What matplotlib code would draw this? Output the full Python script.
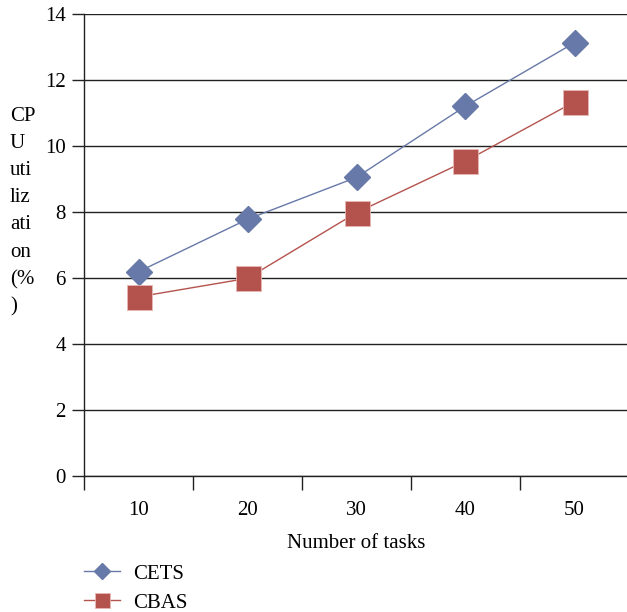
import matplotlib.pyplot as plt

# CPU utilization vs number of tasks
tasks = ["10", "20", "30", "40", "50"]
cets = [6.19, 7.78, 9.05, 11.21, 13.13]
cbas = [5.43, 5.99, 7.98, 9.54, 11.34]

plt.rcParams["font.family"] = ["Liberation Serif", "DejaVu Serif"]

blue = "#6779A8"
red = "#B4534E"
fs = 15

fig = plt.figure(figsize=(6.27, 6.12), dpi=100)
ax = fig.add_axes([84 / 627, 1 - 476 / 612, 545 / 627, 462 / 612])

x = list(range(len(tasks)))
ax.plot(x, cets, color=blue, lw=1.0, marker="D", markersize=13,
        markeredgecolor=blue, label="CETS", zorder=3)
ax.plot(x, cbas, color=red, lw=1.0, marker="s", markersize=18,
        markeredgecolor="#E8B8B5", markeredgewidth=0.6, label="CBAS", zorder=3)

ax.set_ylim(0, 14)
ax.set_yticks(range(0, 15, 2))
ax.set_xlim(-0.5, len(tasks) - 0.5)
ax.set_xticks([i - 0.5 for i in range(len(tasks) + 1)])
ax.set_xticklabels([])
ax.set_xticks(x, minor=True)
ax.set_xticklabels(tasks, minor=True)
ax.tick_params(axis="x", which="major", length=10, width=1, color="#222222")
ax.tick_params(axis="x", which="minor", length=0, pad=18, labelsize=fs)
ax.tick_params(axis="y", length=9, width=1, color="#222222", labelsize=fs, pad=4)

ax.yaxis.grid(True, color="#222222", lw=1)
ax.set_axisbelow(True)
for s in ["top", "right"]:
    ax.spines[s].set_visible(False)
for s in ["left", "bottom"]:
    ax.spines[s].set_color("#222222")
    ax.spines[s].set_linewidth(1)

ax.set_xlabel("Number of tasks", fontsize=fs, labelpad=10)

fig.text(10 / 627, 1 - 107 / 612, "CP\nU\nuti\nliz\nati\non\n(%\n)",
         fontsize=fs, ha="left", va="top", linespacing=1.58)

leg = ax.legend(loc="upper left", bbox_to_anchor=(84 / 627, 1 - 564 / 612),
                bbox_transform=fig.transFigure, frameon=False, fontsize=fs,
                handlelength=1.75, handletextpad=0.6, labelspacing=0.45,
                markerscale=0.6, borderaxespad=0, borderpad=0)

fig.savefig("out.png", dpi=100)
